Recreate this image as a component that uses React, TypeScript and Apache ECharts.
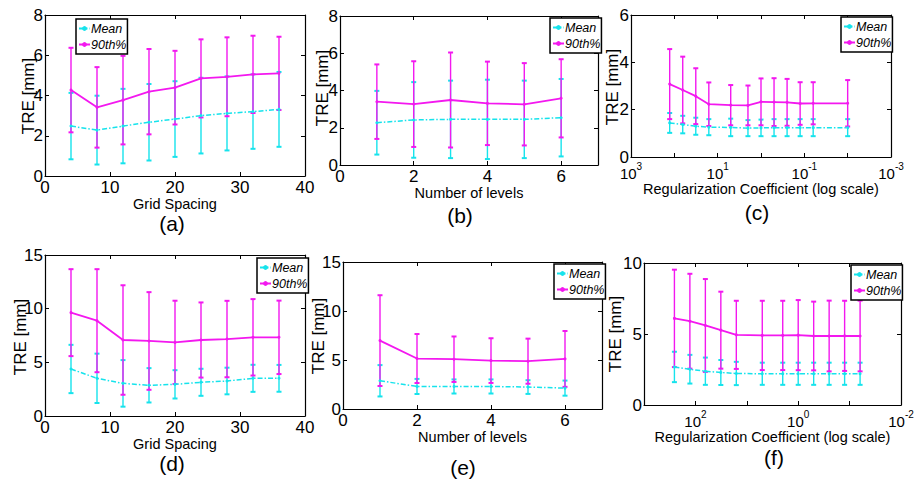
import React, { useEffect, useRef } from 'react';
import * as echarts from 'echarts';

// ---------- data ----------
const gridSpacing = [4, 8, 12, 16, 20, 24, 28, 32, 36];
const levels = [1, 2, 3, 4, 5, 6];
const regCoefC = [128, 64, 32, 16, 5, 2, 1, 0.5, 0.25, 0.125, 0.0625, 0.01];
const regCoefF = [256, 128, 64, 32, 16, 5, 2, 1, 0.5, 0.25, 0.125, 0.0625];

const aMean = [2.48, 2.28, 2.48, 2.67, 2.83, 3.0, 3.11, 3.2, 3.31];
const aMeanStd = [1.65, 1.71, 1.85, 1.9, 1.88, 1.88, 1.84, 1.85, 1.86];
const a90 = [4.27, 3.41, 3.77, 4.19, 4.39, 4.85, 4.93, 5.05, 5.1];
const a90Std = [2.1, 2.0, 2.2, 2.12, 1.83, 1.94, 1.96, 1.92, 1.82];

const bMean = [2.27, 2.42, 2.45, 2.45, 2.45, 2.54];
const bMeanStd = [1.71, 2.03, 2.08, 2.13, 2.08, 2.08];
const b90 = [3.4, 3.27, 3.49, 3.31, 3.26, 3.58];
const b90Std = [2.0, 2.3, 2.55, 2.24, 2.21, 2.1];

const cMean = [1.44, 1.37, 1.3, 1.26, 1.25, 1.22, 1.23, 1.24, 1.24, 1.24, 1.24, 1.24];
const cMeanStd = [0.42, 0.37, 0.36, 0.34, 0.37, 0.34, 0.35, 0.36, 0.36, 0.36, 0.36, 0.36];
const c90 = [3.08, 2.83, 2.57, 2.23, 2.19, 2.18, 2.33, 2.32, 2.31, 2.26, 2.27, 2.27];
const c90Std = [1.48, 1.41, 1.18, 0.92, 0.85, 0.84, 0.99, 1.01, 0.99, 0.9, 0.89, 0.98];

const dMean = [4.38, 3.51, 3.04, 2.86, 2.95, 3.14, 3.26, 3.51, 3.51];
const dMeanStd = [2.25, 2.3, 2.17, 1.6, 1.32, 1.26, 1.24, 1.26, 1.25];
const d90 = [9.63, 8.88, 7.08, 6.99, 6.86, 7.08, 7.17, 7.33, 7.33];
const d90Std = [4.05, 4.8, 5.1, 4.55, 3.88, 3.5, 3.56, 3.56, 3.42];

const eMean = [2.88, 2.3, 2.3, 2.3, 2.24, 2.13];
const eMeanStd = [1.6, 0.77, 0.72, 0.72, 0.7, 0.77];
const e90 = [6.98, 5.15, 5.08, 4.94, 4.88, 5.11];
const e90Std = [4.63, 2.5, 2.32, 2.28, 2.3, 2.85];

const fMean = [2.68, 2.52, 2.38, 2.29, 2.22, 2.2, 2.2, 2.2, 2.2, 2.2, 2.2, 2.2];
const fMeanStd = [1.07, 1.01, 0.96, 0.88, 0.82, 0.78, 0.78, 0.78, 0.78, 0.78, 0.78, 0.78];
const f90 = [6.1, 5.9, 5.6, 5.27, 4.94, 4.9, 4.9, 4.92, 4.86, 4.86, 4.87, 4.86];
const f90Std = [3.43, 3.34, 3.27, 2.71, 2.4, 2.44, 2.44, 2.47, 2.42, 2.49, 2.47, 2.49];

const seriesNames = ['Mean', '90th%'];
const xNames = ['Grid Spacing', 'Number of levels', 'Regularization Coefficient (log scale)'];
const yName = 'TRE [mm]';
const panelLabels = ['(a)', '(b)', '(c)', '(d)', '(e)', '(f)'];

// ---------- styles / layout ----------
const FONT = '"Liberation Sans", Arial, Helvetica, sans-serif';
const CYAN = '#16e3ec';
const MAGENTA = '#f318ef';

type Panel = {
  xs: number[];
  log: boolean;
  mean: number[];
  meanStd: number[];
  p90: number[];
  p90Std: number[];
  xMin: number;
  xMax: number;
  xInt: number;
  yMax: number;
  yInt: number;
  xName: string;
  showExp?: (n: number) => boolean;
  box: { left: number; top: number; width: number; height: number };
  legend: { left: number; top: number };
  xNameGap: number;
  yNamePos: [number, number];
  labelPos: [number, number];
};

const panels: Panel[] = [
  {
    xs: gridSpacing, log: false, mean: aMean, meanStd: aMeanStd, p90: a90, p90Std: a90Std,
    xMin: 0, xMax: 40, xInt: 10, yMax: 8, yInt: 2, xName: xNames[0],
    box: { left: 45, top: 15, width: 260, height: 161 }, legend: { left: 76, top: 19 },
    xNameGap: 19, yNamePos: [28, 96], labelPos: [172, 223],
  },
  {
    xs: levels, log: false, mean: bMean, meanStd: bMeanStd, p90: b90, p90Std: b90Std,
    xMin: 0, xMax: 7, xInt: 2, yMax: 8, yInt: 2, xName: xNames[1],
    box: { left: 340, top: 16, width: 258, height: 149 }, legend: { left: 550, top: 18 },
    xNameGap: 18, yNamePos: [322.5, 88], labelPos: [460, 215],
  },
  {
    xs: regCoefC, log: true, mean: cMean, meanStd: cMeanStd, p90: c90, p90Std: c90Std,
    xMin: -3, xMax: 3, xInt: 1, yMax: 6, yInt: 2, xName: xNames[2],
    showExp: (n) => Math.abs(n % 2) === 1,
    box: { left: 631, top: 15, width: 260, height: 142 }, legend: { left: 841, top: 17 },
    xNameGap: 24, yNamePos: [612.5, 87], labelPos: [757, 212],
  },
  {
    xs: gridSpacing, log: false, mean: dMean, meanStd: dMeanStd, p90: d90, p90Std: d90Std,
    xMin: 0, xMax: 40, xInt: 10, yMax: 15, yInt: 5, xName: xNames[0],
    box: { left: 45, top: 255, width: 260, height: 161 }, legend: { left: 257, top: 258 },
    xNameGap: 19, yNamePos: [20.5, 337], labelPos: [172, 463],
  },
  {
    xs: levels, log: false, mean: eMean, meanStd: eMeanStd, p90: e90, p90Std: e90Std,
    xMin: 0, xMax: 7, xInt: 2, yMax: 15, yInt: 5, xName: xNames[1],
    box: { left: 343, top: 262, width: 259, height: 147 }, legend: { left: 554, top: 264 },
    xNameGap: 17, yNamePos: [318.5, 336], labelPos: [463, 467],
  },
  {
    xs: regCoefF, log: true, mean: fMean, meanStd: fMeanStd, p90: f90, p90Std: f90Std,
    xMin: -2, xMax: 3, xInt: 1, yMax: 10, yInt: 5, xName: xNames[2],
    showExp: (n) => n % 2 === 0 && n < 3,
    box: { left: 644, top: 263, width: 257, height: 142 }, legend: { left: 851, top: 265 },
    xNameGap: 23, yNamePos: [615.5, 334], labelPos: [774, 457],
  },
];

function errorBarSeries(xs: number[], vals: number[], stds: number[], color: string, idx: number) {
  return {
    type: 'custom',
    name: 'err' + idx + color,
    xAxisIndex: idx * 2,
    yAxisIndex: idx * 2,
    silent: true,
    encode: { x: 0, y: [1, 2] },
    data: xs.map((x, i) => [x, vals[i] - stds[i], vals[i] + stds[i]]),
    renderItem: (params: any, api: any) => {
      const x = api.value(0);
      const lo = api.coord([x, api.value(1)]);
      const hi = api.coord([x, api.value(2)]);
      const w = 2.5;
      const st = { stroke: color, lineWidth: 1.4 };
      const cap = { stroke: color, lineWidth: 2 };
      return {
        type: 'group',
        children: [
          { type: 'line', shape: { x1: hi[0], y1: hi[1], x2: lo[0], y2: lo[1] }, style: st },
          { type: 'line', shape: { x1: hi[0] - w, y1: hi[1], x2: hi[0] + w, y2: hi[1] }, style: cap },
          { type: 'line', shape: { x1: lo[0] - w, y1: lo[1], x2: lo[0] + w, y2: lo[1] }, style: cap },
        ],
      };
    },
  };
}

function buildOption() {
  const grid: any[] = [];
  const xAxis: any[] = [];
  const yAxis: any[] = [];
  const series: any[] = [];
  const legend: any[] = [];
  const graphic: any[] = [];

  panels.forEach((p, i) => {
    grid.push({ ...p.box, show: false });
    const xs = p.log ? p.xs.map((v) => Math.log10(v)) : p.xs;
    const tick = { show: true, inside: true, length: 4, lineStyle: { color: '#000', width: 1 } };
    const line = { show: true, onZero: false, lineStyle: { color: '#000', width: 1.2 } };
    const xLabel: any = p.log
      ? {
          show: true,
          margin: 2,
          formatter: (v: number) => {
            const n = Math.round(v);
            return p.showExp && p.showExp(n) ? `{b|10}{s|${n}}` : '';
          },
          rich: {
            b: { fontSize: 15, fontFamily: FONT, color: '#000', padding: [7, 0, 0, 0] },
            s: { fontSize: 10, fontFamily: FONT, color: '#000', padding: [0, 0, 7, 0] },
          },
        }
      : { show: true, margin: 3, fontSize: 17, fontFamily: FONT, color: '#000', showMaxLabel: p.xMax % p.xInt === 0 };
    xAxis.push({
      type: 'value', gridIndex: i, position: 'bottom', min: p.xMin, max: p.xMax, interval: p.xInt,
      inverse: p.log, axisLine: line, axisTick: tick, axisLabel: xLabel, splitLine: { show: false },
      name: p.xName, nameLocation: 'middle', nameGap: p.xNameGap,
      nameTextStyle: { fontSize: 14.5, fontFamily: FONT, color: '#000' },
    });
    xAxis.push({
      type: 'value', gridIndex: i, position: 'top', min: p.xMin, max: p.xMax, interval: p.xInt,
      inverse: p.log, axisLine: line, axisTick: tick, axisLabel: { show: false }, splitLine: { show: false },
    });
    yAxis.push({
      type: 'value', gridIndex: i, position: 'left', min: 0, max: p.yMax, interval: p.yInt,
      axisLine: line, axisTick: tick, splitLine: { show: false },
      axisLabel: { show: true, margin: 2, fontSize: 17, fontFamily: FONT, color: '#000' },
    });
    yAxis.push({
      type: 'value', gridIndex: i, position: 'right', min: 0, max: p.yMax, interval: p.yInt,
      axisLine: line, axisTick: tick, axisLabel: { show: false }, splitLine: { show: false },
    });

    series.push(errorBarSeries(xs, p.mean, p.meanStd, CYAN, i));
    series.push({
      type: 'line', name: seriesNames[0], xAxisIndex: i * 2, yAxisIndex: i * 2,
      data: xs.map((x, k) => [x, p.mean[k]]),
      symbol: 'circle', symbolSize: 3, showSymbol: true,
      itemStyle: { color: CYAN },
      lineStyle: { color: CYAN, width: 1.5, type: [5, 2, 1.5, 2] },
    });
    series.push(errorBarSeries(xs, p.p90, p.p90Std, MAGENTA, i));
    series.push({
      type: 'line', name: seriesNames[1], xAxisIndex: i * 2, yAxisIndex: i * 2,
      data: xs.map((x, k) => [x, p.p90[k]]),
      symbol: 'circle', symbolSize: 3, showSymbol: true,
      itemStyle: { color: MAGENTA },
      lineStyle: { color: MAGENTA, width: 1.8, type: 'solid' },
    });

    legend.push({
      data: seriesNames, left: p.legend.left, top: p.legend.top, orient: 'vertical',
      itemWidth: 11, itemHeight: 6, itemGap: 3, selectedMode: false,
      backgroundColor: '#fff', borderColor: '#000', borderWidth: 1.5, borderRadius: 0,
      padding: [3, 1, 3, 2],
      textStyle: { fontSize: 12.5, fontStyle: 'italic', fontFamily: FONT, color: '#000', padding: [0, 0, 0, -4] },
    });

    graphic.push({
      type: 'text', x: p.yNamePos[0], y: p.yNamePos[1], rotation: Math.PI / 2, silent: true,
      style: { text: yName, fontSize: 17, fontFamily: FONT, fill: '#000', align: 'center', verticalAlign: 'middle' },
    });
    graphic.push({
      type: 'text', x: p.labelPos[0], y: p.labelPos[1], silent: true,
      style: { text: panelLabels[i], fontSize: 21, fontFamily: FONT, fill: '#000', align: 'center', verticalAlign: 'middle' },
    });
  });

  return { animation: false, backgroundColor: '#fff', grid, xAxis, yAxis, series, legend, graphic };
}

export default function App() {
  const ref = useRef<HTMLDivElement>(null);
  useEffect(() => {
    document.body.style.margin = '0';
    if (!ref.current) return;
    const chart = echarts.init(ref.current, undefined, { renderer: 'svg' });
    chart.setOption(buildOption() as any);
    return () => chart.dispose();
  }, []);
  return <div ref={ref} style={{ width: 918, height: 483, background: '#fff' }} />;
}
